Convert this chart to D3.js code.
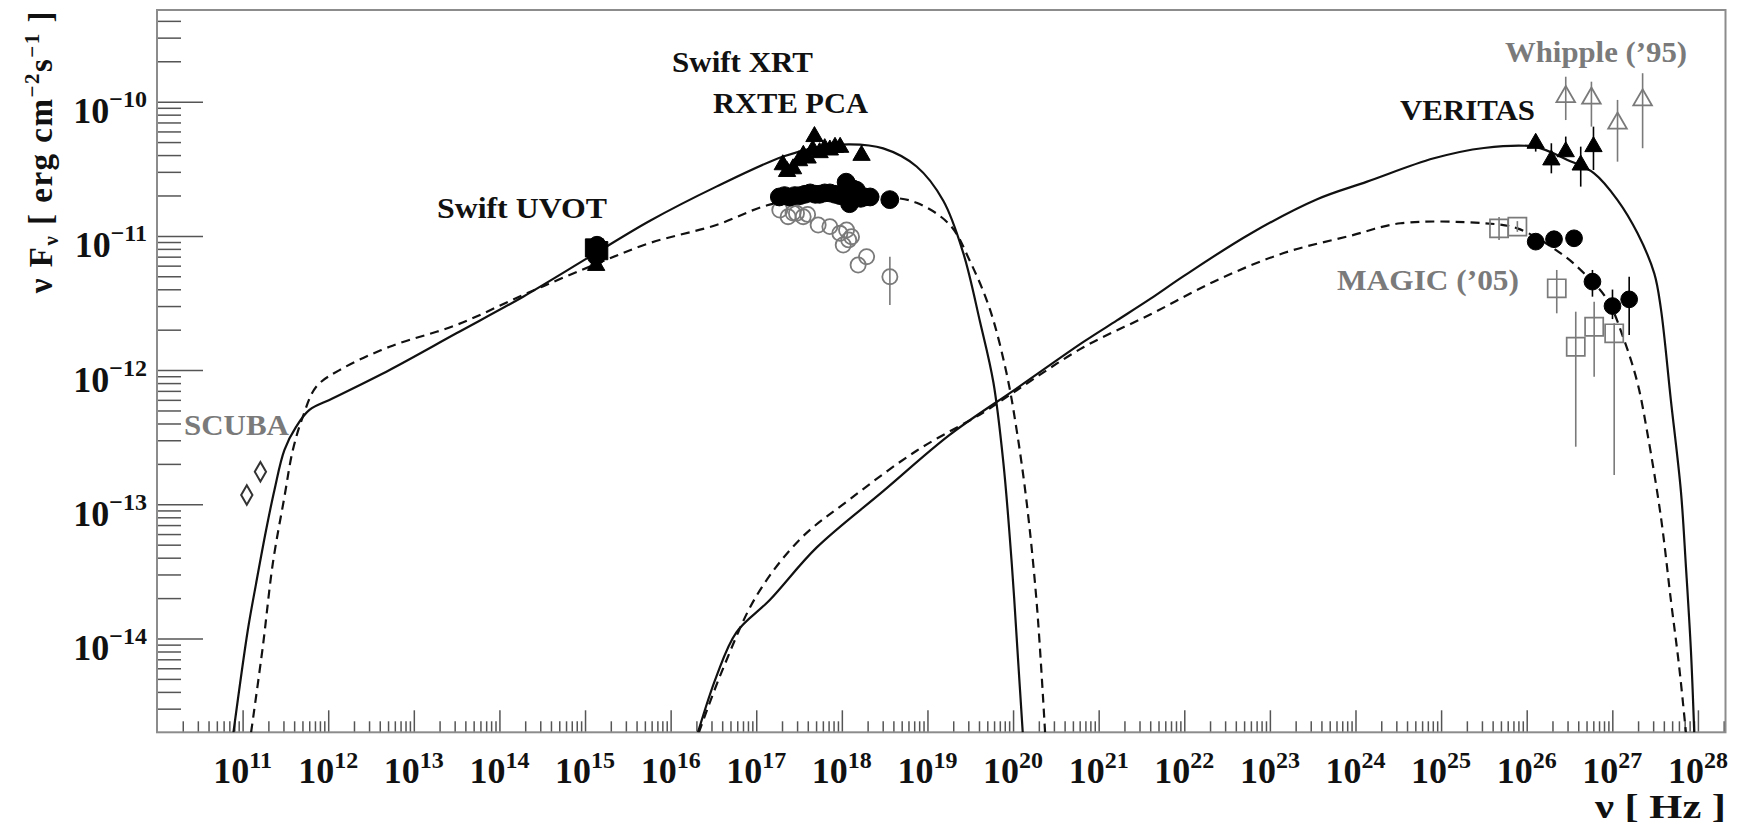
<!DOCTYPE html>
<html>
<head>
<meta charset="utf-8">
<script src="https://cdn.jsdelivr.net/npm/d3@7"></script>
<style>
  body { margin: 0; background: #fff; }
  #chart { width: 1746px; height: 825px; }
  text { font-family: "Liberation Serif", "Times New Roman", serif; font-weight: bold; }
</style>
</head>
<body>
<div id="chart"></div>
<script>
// all values are [log10 nu (Hz), log10 nuFnu (erg cm-2 s-1)]
// error bars, where present: [.., .., logHigh, logLow]

// model curves
const syncSolid = [
    [10.893, -14.70], [11.061, -13.937], [11.158, -13.589], [11.275, -13.19], [11.372, -12.893],
    [11.489, -12.595], [11.626, -12.422], [11.781, -12.297], [12.055, -12.21], [12.717, -11.999],
    [13.497, -11.726], [14.277, -11.453], [15.056, -11.155], [15.754, -10.889], [16.534, -10.633],
    [17.314, -10.408], [17.704, -10.342], [18.094, -10.318], [18.483, -10.348], [18.873, -10.483],
    [19.185, -10.738], [19.419, -11.129], [19.614, -11.64], [19.770, -12.091], [19.887, -12.692],
    [19.985, -13.443], [20.062, -14.194], [20.113, -14.70]
];
const syncDashed = [
    [11.099, -14.70], [11.236, -14.061], [11.353, -13.44], [11.489, -12.943], [11.587, -12.595],
    [11.704, -12.347], [11.86, -12.124], [12.132, -12.0], [12.717, -11.826], [13.497, -11.664],
    [14.277, -11.44], [15.056, -11.229], [15.754, -11.054], [16.534, -10.919], [17.119, -10.774],
    [17.704, -10.709], [18.483, -10.709], [18.873, -10.753], [19.263, -10.919], [19.497, -11.189],
    [19.731, -11.55], [19.926, -12.03], [20.043, -12.451], [20.160, -12.992], [20.277, -13.743],
    [20.374, -14.70]
];
const icSolid = [
    [16.319, -14.70], [16.534, -14.284], [16.768, -13.954], [17.158, -13.713], [17.704, -13.323],
    [18.483, -12.902], [19.263, -12.481], [20.043, -12.136], [20.822, -11.79], [21.213, -11.630],
    [21.602, -11.47], [21.992, -11.30], [22.772, -10.984], [23.552, -10.727], [24.136, -10.596],
    [24.916, -10.422], [25.50, -10.345], [26.086, -10.335], [26.476, -10.434], [26.788, -10.534],
    [27.061, -10.733], [27.295, -10.981], [27.49, -11.279], [27.567, -11.54], [27.684, -12.223],
    [27.801, -12.9], [27.86, -13.465], [27.918, -14.086], [27.957, -14.70]
];
const icDashed = [
    [16.33, -14.70], [16.612, -14.224], [17.002, -13.683], [17.509, -13.262], [18.094, -12.962],
    [18.873, -12.601], [19.653, -12.316], [20.043, -12.15], [20.822, -11.83], [21.602, -11.586],
    [22.382, -11.33], [23.161, -11.128], [23.941, -10.999], [24.526, -10.906], [25.50, -10.906],
    [25.891, -10.944], [26.398, -11.13], [26.67, -11.279], [26.944, -11.478], [27.138, -11.776],
    [27.295, -12.098], [27.41, -12.471], [27.567, -13.092], [27.684, -13.713], [27.781, -14.21],
    [27.86, -14.70]
];

// data points
const scuba = [[11.049, -12.931], [11.208, -12.757]];
const uvotSquares = [[15.11, -11.09], [15.16, -11.11]];
const uvotCircles = [[15.13, -11.15], [15.14, -11.07]];
const uvotTriangles = [[15.13, -11.22]];
const xrayTriangles = [
    [17.31, -10.47], [17.36, -10.52], [17.43, -10.50], [17.50, -10.44], [17.55, -10.40],
    [17.60, -10.42], [17.66, -10.36], [17.68, -10.26], [17.74, -10.38], [17.80, -10.35],
    [17.86, -10.36], [17.92, -10.34], [17.98, -10.34], [18.23, -10.40]
];
const xrayFilled = [
    [17.27, -10.71], [17.33, -10.70], [17.39, -10.71], [17.45, -10.70], [17.51, -10.70],
    [17.57, -10.69], [17.63, -10.68], [17.69, -10.69], [17.74, -10.69], [17.80, -10.68],
    [17.86, -10.68], [17.92, -10.69], [17.98, -10.70], [18.05, -10.60], [18.09, -10.76],
    [18.13, -10.65], [18.17, -10.66], [18.22, -10.72], [18.27, -10.71], [18.33, -10.71],
    [18.56, -10.73, -10.69, -10.77]
];
const xrayOpen = [
    [17.275, -10.807], [17.372, -10.857], [17.43, -10.83], [17.47, -10.832], [17.548, -10.857],
    [17.60, -10.84], [17.723, -10.919], [17.86, -10.931], [17.977, -10.981], [18.055, -10.956],
    [18.113, -11.006], [18.016, -11.068], [18.08, -11.03], [18.289, -11.155], [18.19, -11.217],
    [18.561, -11.304, -11.155, -11.515]
];
const veritas = [
    [26.105, -10.31, -10.25, -10.372], [26.288, -10.434, -10.31, -10.534], [26.456, -10.373, -10.26, -10.41],
    [26.631, -10.472, -10.335, -10.633], [26.78, -10.335, -10.186, -10.509]
];
const whipple = [
    [26.456, -9.963, -9.814, -10.137], [26.756, -9.975, -9.851, -10.186],
    [27.061, -10.161, -9.987, -10.447], [27.354, -9.987, -9.788, -10.347]
];
const tevCircles = [
    [26.105, -11.043, -11.0, -11.09], [26.319, -11.025, -10.99, -11.07], [26.553, -11.018, -10.99, -11.05],
    [26.768, -11.341, -11.254, -11.453], [27.002, -11.523, -11.40, -11.62], [27.197, -11.473, -11.304, -11.738]
];
const magic = [
    [25.677, -10.944, -10.86, -11.03], [25.891, -10.931, -10.89, -10.97], [26.351, -11.391, -11.254, -11.577],
    [26.573, -11.826, -11.565, -12.571], [26.788, -11.677, -11.49, -12.049], [27.022, -11.726, -11.651, -12.782]
];

// tick labels
const xDecades = [11, 12, 13, 14, 15, 16, 17, 18, 19, 20, 21, 22, 23, 24, 25, 26, 27, 28];
const yDecades = [-10, -11, -12, -13, -14];

const width = 1746;
const height = 825;
const plot = {left: 157, right: 1725.5, top: 10, bottom: 732.3};

const svg = d3.select("#chart")
    .append("svg")
    .attr("width", width)
    .attr("height", height);

svg.append("rect").attr("width", width).attr("height", height).attr("fill", "#fff");

// Scales
const xScale = d3.scaleLog()
    .domain([1e10, 2.1e28])
    .range([plot.left, plot.right]);

const yScale = d3.scaleLog()
    .domain([2.0e-15, 4.82e-10])
    .range([plot.bottom, plot.top]);

const P = v => Math.pow(10, v);
const px = d => xScale(P(d[0]));
const py = d => yScale(P(d[1]));

// tick positions (2..9 in every decade)
const xMinor = [], yMinor = [];
for (let e = 10; e <= 28; e++) {
    for (let m = 2; m <= 9; m++) {
        if (m * Math.pow(10, e) < 2.1e28) xMinor.push(m * Math.pow(10, e));
    }
}
for (let e = -15; e <= -10; e++) {
    for (let m = 2; m <= 9; m++) {
        const v = m * Math.pow(10, e);
        if (v > 2.0e-15 && v < 4.82e-10) yMinor.push(v);
    }
}

// Axes (ticks only, frame drawn separately)
function styleAxis(g) {
    g.select(".domain").remove();
    g.selectAll("line").attr("stroke", "#555").attr("stroke-width", 1.5);
}

svg.append("g")
    .attr("transform", `translate(0,${plot.bottom})`)
    .call(d3.axisBottom(xScale).tickValues(xMinor).tickSize(-11).tickFormat(""))
    .call(styleAxis);
svg.append("g")
    .attr("transform", `translate(0,${plot.bottom})`)
    .call(d3.axisBottom(xScale).tickValues(d3.range(11, 29).map(P)).tickSize(-22).tickFormat(""))
    .call(styleAxis);
svg.append("g")
    .attr("transform", `translate(${plot.left},0)`)
    .call(d3.axisLeft(yScale).tickValues(yMinor).tickSize(-24).tickFormat(""))
    .call(styleAxis);
svg.append("g")
    .attr("transform", `translate(${plot.left},0)`)
    .call(d3.axisLeft(yScale).tickValues(d3.range(-14, -9).map(P)).tickSize(-46).tickFormat(""))
    .call(styleAxis);

// Frame
svg.append("rect")
    .attr("x", plot.left)
    .attr("y", plot.top)
    .attr("width", plot.right - plot.left)
    .attr("height", plot.bottom - plot.top)
    .attr("fill", "none")
    .attr("stroke", "#8c8c8c")
    .attr("stroke-width", 2);

// Tick labels
xDecades.forEach(function(k) {
    const t = svg.append("text")
        .attr("x", xScale(P(k)))
        .attr("y", 783)
        .attr("text-anchor", "middle")
        .attr("fill", "#111");
    t.append("tspan").attr("font-size", 36).text("10");
    t.append("tspan").attr("font-size", 24).attr("dy", -15).text(k);
});

yDecades.forEach(function(k) {
    const t = svg.append("text")
        .attr("x", 147)
        .attr("y", yScale(P(k)) + 21.5)
        .attr("text-anchor", "end")
        .attr("fill", "#111");
    t.append("tspan").attr("font-size", 36).text("10");
    t.append("tspan").attr("font-size", 24).attr("dy", -16).text("\u2212" + Math.abs(k));
});

// Axis titles
const yTitle = svg.append("text")
    .attr("transform", "translate(52,10) rotate(-90)")
    .attr("text-anchor", "end")
    .attr("font-size", 33)
    .attr("letter-spacing", 1.5)
    .attr("fill", "#111");
yTitle.append("tspan").text("\u03bd F");
yTitle.append("tspan").attr("font-size", 21).attr("dy", 6).text("\u03bd");
yTitle.append("tspan").attr("dy", -6).text(" [ erg cm");
yTitle.append("tspan").attr("font-size", 21).attr("dy", -13).text("\u22122");
yTitle.append("tspan").attr("dy", 13).text("s");
yTitle.append("tspan").attr("font-size", 21).attr("dy", -13).text("\u22121");
yTitle.append("tspan").attr("dy", 13).text(" ]");

svg.append("text")
    .attr("x", 1726)
    .attr("y", 818)
    .attr("text-anchor", "end")
    .attr("font-size", 34)
    .attr("fill", "#111")
    .attr("textLength", 131)
    .attr("lengthAdjust", "spacingAndGlyphs")
    .text("\u03bd [ Hz ]");

// Curves
svg.append("clipPath").attr("id", "clip")
    .append("rect")
    .attr("x", plot.left).attr("y", plot.top)
    .attr("width", plot.right - plot.left).attr("height", plot.bottom - plot.top);

const line = d3.line()
    .x(px)
    .y(py)
    .curve(d3.curveCatmullRom.alpha(0.5));

const curves = svg.append("g").attr("clip-path", "url(#clip)");
[syncSolid, icSolid].forEach(function(c) {
    curves.append("path").datum(c)
        .attr("d", line)
        .attr("fill", "none")
        .attr("stroke", "#111")
        .attr("stroke-width", 2.2);
});
[syncDashed, icDashed].forEach(function(c) {
    curves.append("path").datum(c)
        .attr("d", line)
        .attr("fill", "none")
        .attr("stroke", "#111")
        .attr("stroke-width", 2.2)
        .attr("stroke-dasharray", "9,6");
});

// Markers
function plotPoints(data, type, size, fill, stroke, sw) {
    const g = svg.append("g");
    data.filter(d => d.length > 2).forEach(function(d) {
        g.append("line")
            .attr("x1", px(d)).attr("x2", px(d))
            .attr("y1", yScale(P(d[2]))).attr("y2", yScale(P(d[3])))
            .attr("stroke", stroke)
            .attr("stroke-width", 1.6);
    });
    g.selectAll("path")
        .data(data)
        .enter()
        .append("path")
        .attr("transform", d => `translate(${px(d)},${py(d)})`)
        .attr("d", d3.symbol().type(type).size(size))
        .attr("fill", fill)
        .attr("stroke", stroke)
        .attr("stroke-width", sw);
}

const grey = "#7a7a7a";
plotPoints(scuba, d3.symbolDiamond, 110, "none", "#333", 2);
plotPoints(xrayOpen, d3.symbolCircle, 180, "none", grey, 1.8);
plotPoints(magic, d3.symbolSquare, 330, "none", grey, 1.7);
plotPoints(whipple, d3.symbolTriangle, 150, "none", grey, 1.8);
plotPoints(uvotSquares, d3.symbolSquare, 330, "#000", "#000", 1);
plotPoints(uvotCircles, d3.symbolCircle, 250, "#000", "#000", 1);
plotPoints(uvotTriangles, d3.symbolTriangle, 130, "#000", "#000", 1);
plotPoints(xrayFilled, d3.symbolCircle, 250, "#000", "#000", 1);
plotPoints(xrayTriangles, d3.symbolTriangle, 130, "#000", "#000", 1);
plotPoints(veritas, d3.symbolTriangle, 130, "#000", "#000", 1);
plotPoints(tevCircles, d3.symbolCircle, 220, "#000", "#000", 1);

// Labels
const labels = [
    {text: "Swift XRT", x: 672, y: 71.5, w: 141, color: "#111"},
    {text: "RXTE PCA", x: 713, y: 113, w: 155, color: "#111"},
    {text: "Swift UVOT", x: 437, y: 218, w: 170, color: "#111"},
    {text: "VERITAS", x: 1400, y: 120, w: 135, color: "#111"},
    {text: "Whipple (\u201995)", x: 1505, y: 62, w: 182, color: grey},
    {text: "MAGIC (\u201905)", x: 1337, y: 290, w: 182, color: grey},
    {text: "SCUBA", x: 184, y: 435, w: 105, color: grey}
];
svg.selectAll(".label")
    .data(labels)
    .enter()
    .append("text")
    .attr("class", "label")
    .attr("x", d => d.x)
    .attr("y", d => d.y)
    .attr("font-size", 29)
    .attr("fill", d => d.color)
    .attr("textLength", d => d.w)
    .attr("lengthAdjust", "spacingAndGlyphs")
    .text(d => d.text);
</script>
</body>
</html>
